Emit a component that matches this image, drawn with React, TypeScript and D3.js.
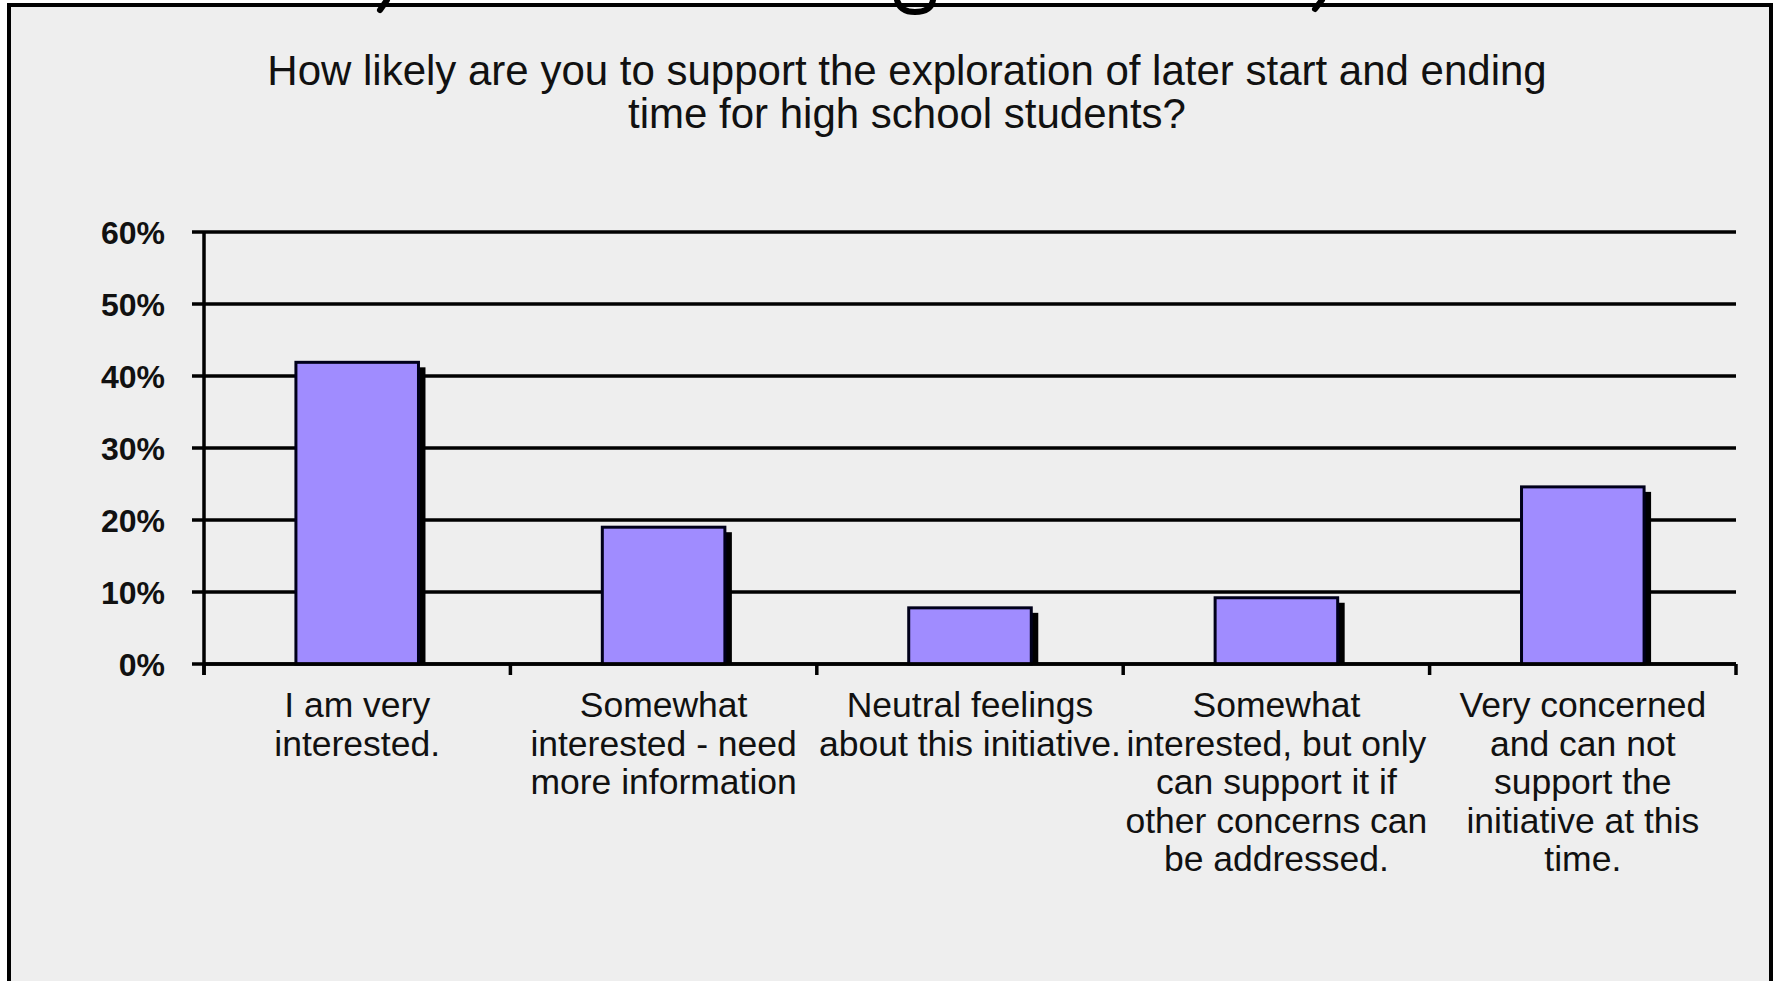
import React from "react";
import * as d3 from "d3";

const titleLines = [
  "How likely are you to support the exploration of later start and ending",
  "time for high school students?",
];

const categories = ["veryInterested", "somewhatNeedInfo", "neutral", "somewhatConcerns", "veryConcerned"];

const categoryLabels: string[][] = [
  ["I am very", "interested."],
  ["Somewhat", "interested - need", "more information"],
  ["Neutral feelings", "about this initiative."],
  ["Somewhat", "interested, but only", "can support it if", "other concerns can", "be addressed."],
  ["Very concerned", "and can not", "support the", "initiative at this", "time."],
];

const values = [41.9, 19.0, 7.8, 9.2, 24.6];

const yTicks = [0, 10, 20, 30, 40, 50, 60];

const W = 1777;
const H = 981;
const FONT = "'Liberation Sans', Arial, 'DejaVu Sans', sans-serif";

export default function App() {
  const x = d3.scaleBand<string>().domain(categories).range([204, 1736]).paddingInner(0.6).paddingOuter(0.3);
  const y = d3.scaleLinear().domain([0, 60]).range([664, 232]);
  const step = x.step();
  const x0 = x.range()[0];
  const x1 = x.range()[1];
  const boundaries = d3.range(categories.length + 1).map((i) => x0 + i * step);
  const shadowDx = 7;
  const shadowDy = 5;

  return (
    <svg
      width={W}
      height={H}
      viewBox={`0 0 ${W} ${H}`}
      style={{ position: "fixed", left: 0, top: 0, background: "#ffffff" }}
      fontFamily={FONT}
    >
      {/* panel */}
      <rect x={9} y={5} width={1762} height={1010} fill="#eeeeee" stroke="#000" strokeWidth={4} />

      {/* cropped heading fragments above the panel */}
      <g fill="none" stroke="#000" strokeWidth={6} strokeLinecap="round">
        <path d="M387,0 L380,10" />
        <path d="M897,0 Q900,12 915,12 Q931,12 933,0" />
        <path d="M1322,0 L1315,9" />
      </g>

      {/* title */}
      <g fontSize={42} fill="#111" textAnchor="middle">
        {titleLines.map((t, i) => (
          <text key={i} x={907} y={85 + i * 43}>
            {t}
          </text>
        ))}
      </g>

      {/* gridlines */}
      <g stroke="#000" strokeWidth={3.5}>
        {yTicks.map((t) => (
          <line key={t} x1={x0 - 12} x2={x1} y1={y(t)} y2={y(t)} />
        ))}
        <line x1={x0} x2={x0} y1={y(60)} y2={y(0) + 11} />
        {boundaries.map((b, i) => (
          <line key={i} x1={b} x2={b} y1={y(0)} y2={y(0) + 11} />
        ))}
      </g>

      {/* y labels */}
      <g fontSize={32} fontWeight="bold" fill="#111" textAnchor="end">
        {yTicks.map((t) => (
          <text key={t} x={165} y={y(t)} dy="0.36em">
            {`${t}%`}
          </text>
        ))}
      </g>

      {/* bars */}
      {categories.map((c, i) => {
        const bx = x(c) as number;
        const bw = x.bandwidth();
        const top = y(values[i]);
        return (
          <g key={c}>
            <rect x={bx + shadowDx} y={top + shadowDy} width={bw} height={y(0) - top - shadowDy} fill="#000" />
            <rect x={bx} y={top} width={bw} height={y(0) - top} fill="#a08cff" stroke="#00001a" strokeWidth={3} />
          </g>
        );
      })}

      {/* baseline redraw */}
      <line x1={x0} x2={x1} y1={y(0)} y2={y(0)} stroke="#000" strokeWidth={3.5} />

      {/* category labels */}
      <g fontSize={35.5} fill="#111" textAnchor="middle">
        {categories.map((c, i) => (
          <text key={c} x={(x(c) as number) + x.bandwidth() / 2} y={717}>
            {categoryLabels[i].map((line, j) => (
              <tspan key={j} x={(x(c) as number) + x.bandwidth() / 2} y={717 + j * 38.5}>
                {line}
              </tspan>
            ))}
          </text>
        ))}
      </g>
    </svg>
  );
}
